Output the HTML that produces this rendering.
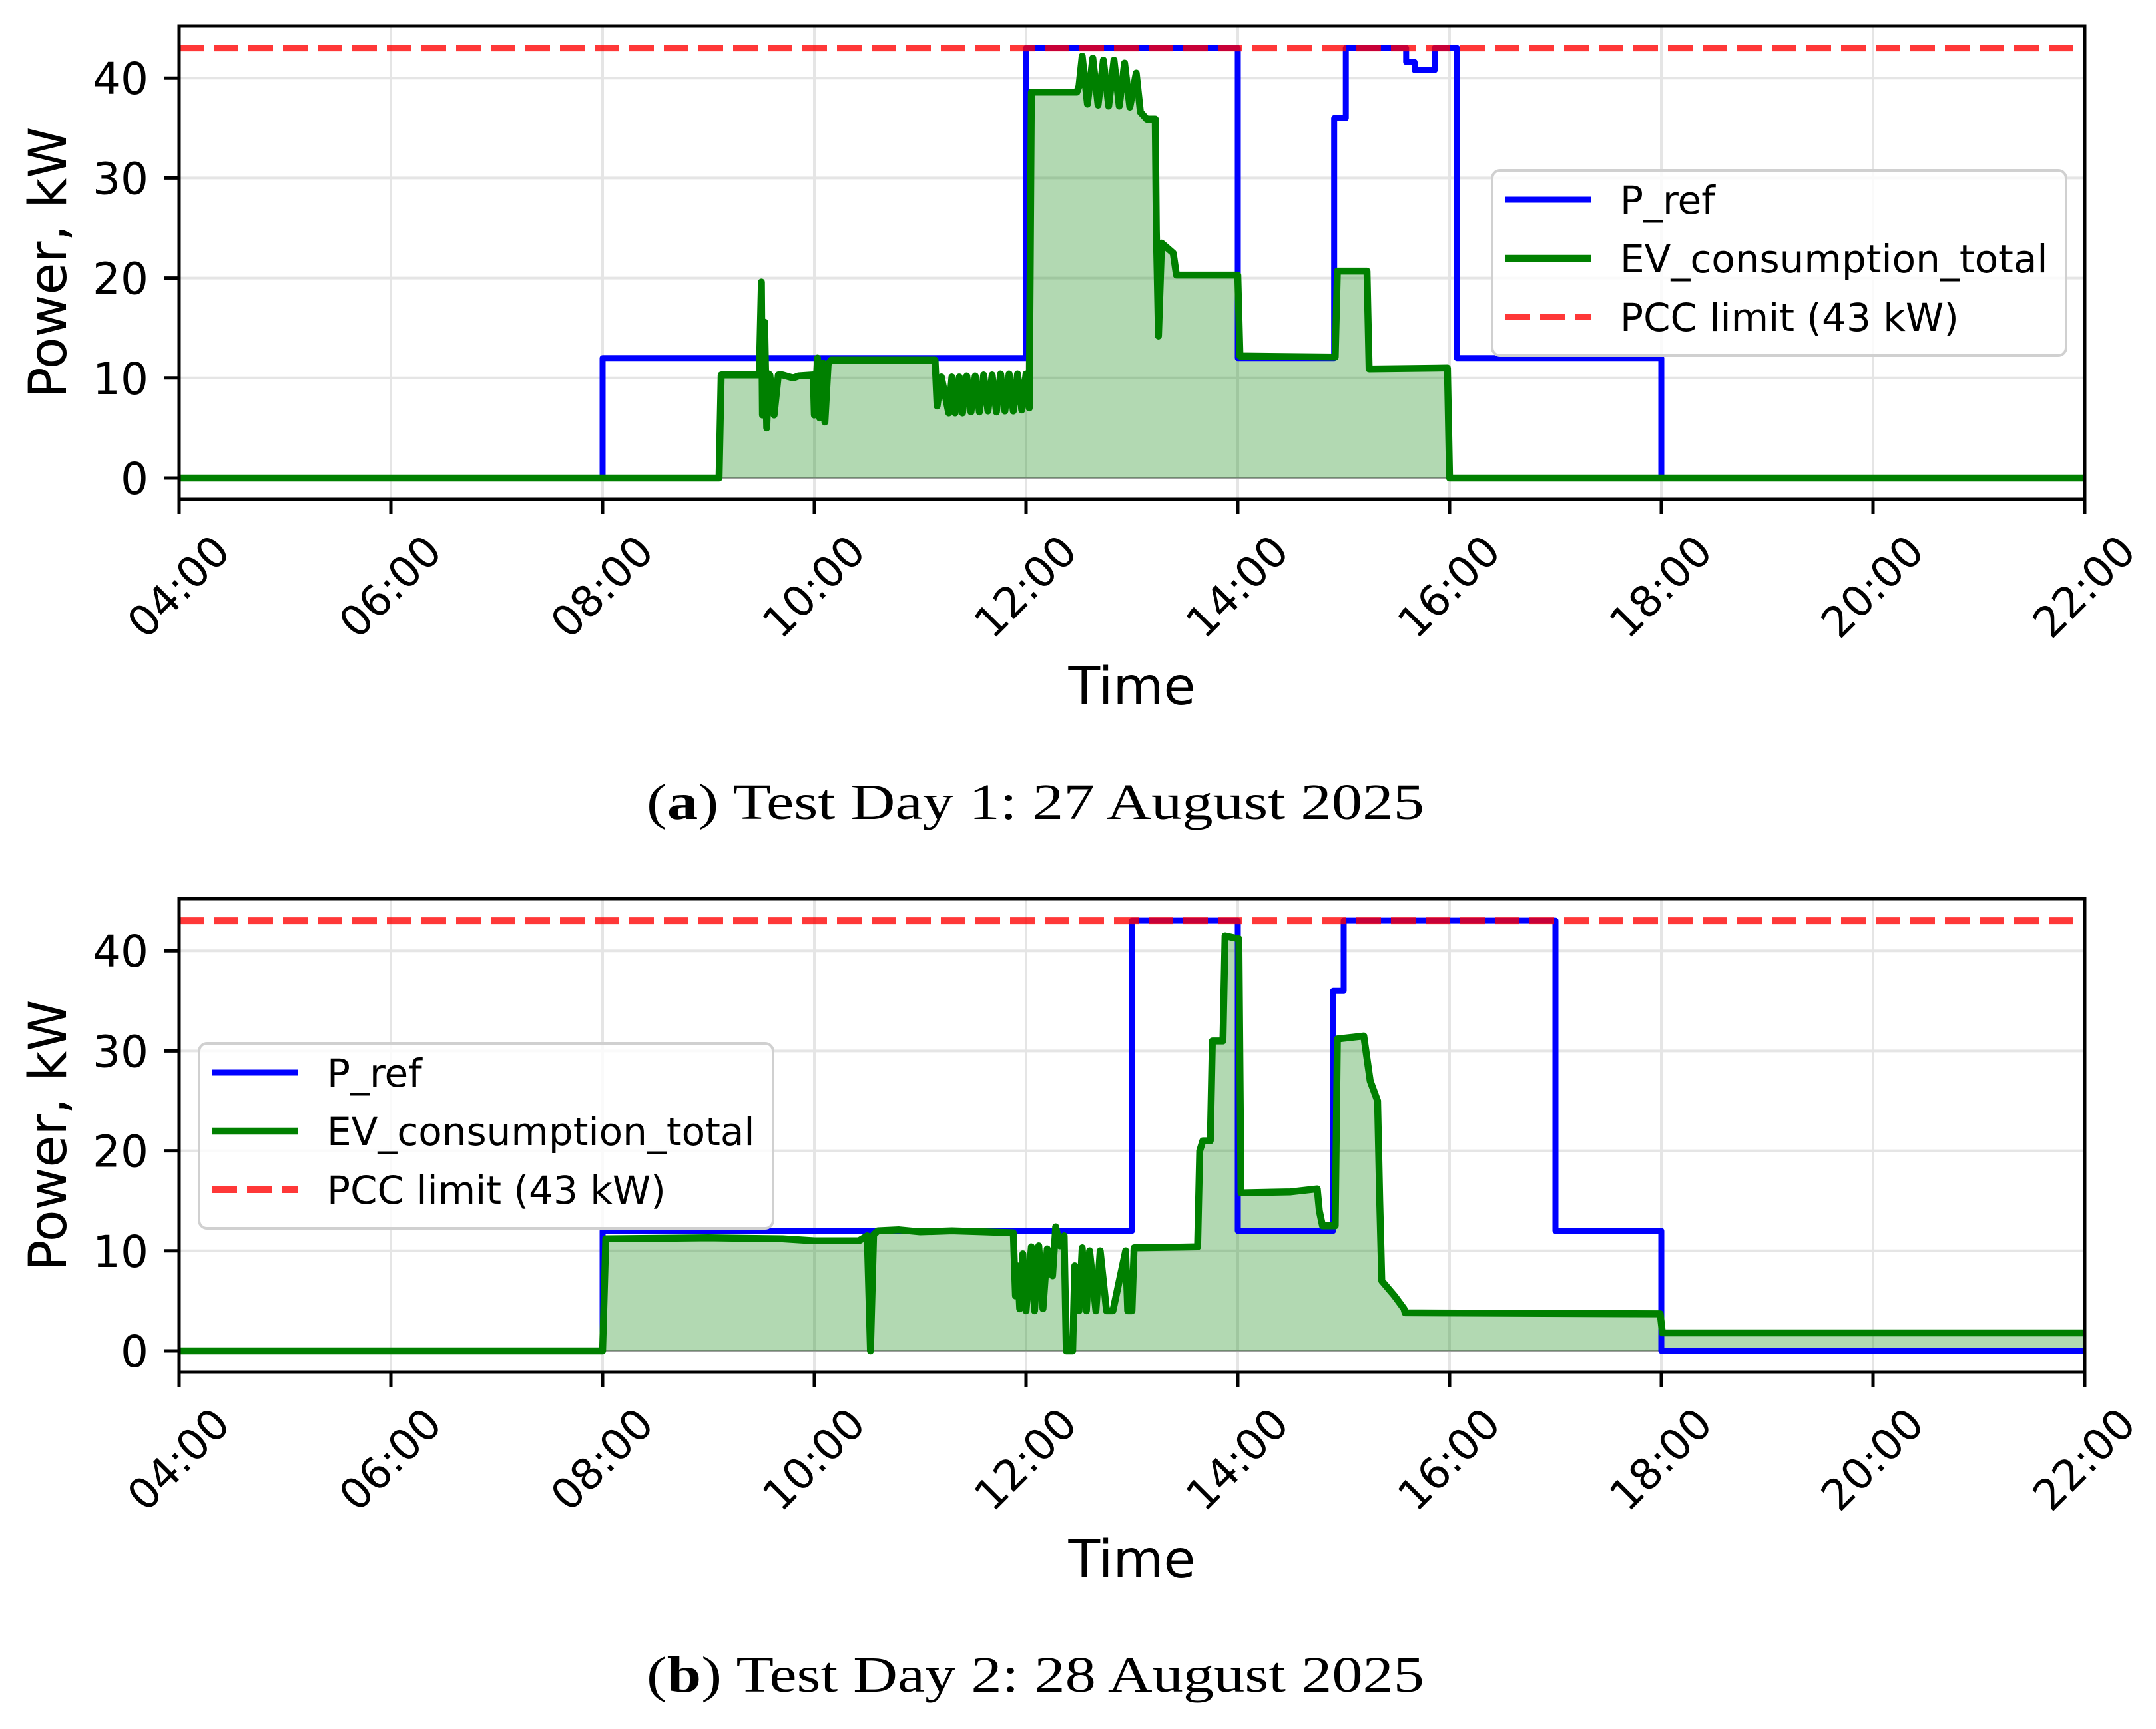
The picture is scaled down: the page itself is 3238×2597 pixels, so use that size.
<!DOCTYPE html>
<html><head><meta charset="utf-8">
<style>
html,body{margin:0;padding:0;background:#fff;}
svg{display:block;}
text{font-family:"DejaVu Sans","Liberation Sans",sans-serif;}
.cap{font-family:"Liberation Serif",serif;}
</style></head>
<body>
<svg id="fig" width="3238" height="2597" viewBox="0 0 3238 2597" xmlns="http://www.w3.org/2000/svg"></svg>
<script>
// ---- data (hours, kW) ----
const xTickLabels = ["04:00","06:00","08:00","10:00","12:00","14:00","16:00","18:00","20:00","22:00"];
const xTickHours = [4,6,8,10,12,14,16,18,20,22];
const yTickValues = [0,10,20,30,40];
const pccLimit = 43;

const day1RefT = [4,8,8,12,12,14,14,14.91,14.91,15.02,15.02,15.59,15.59,15.67,15.67,15.86,15.86,16.07,16.07,18,18,22];
const day1RefV = [0,0,12,12,43,43,12,12,36,36,43,43,41.6,41.6,40.8,40.8,43,43,12,12,0,0];
const day1EvT = [4,9.10,9.12,9.48,9.50,9.51,9.53,9.55,9.57,9.58,9.62,9.66,9.70,9.80,9.85,9.99,10.0,10.03,10.05,10.08,10.10,10.13,10.16,10.18,11.14,11.16,11.20,11.27,11.30,11.33,11.37,11.40,11.44,11.48,11.52,11.56,11.60,11.64,11.68,11.72,11.76,11.80,11.84,11.88,11.92,11.96,12.0,12.03,12.05,12.48,12.50,12.53,12.58,12.63,12.68,12.73,12.78,12.83,12.88,12.93,12.98,13.04,13.08,13.14,13.22,13.23,13.25,13.28,13.39,13.42,14.0,14.02,14.92,14.94,15.22,15.24,15.98,16.0,22];
const day1EvV = [0,0,10.3,10.3,19.6,6.3,15.6,5,10.4,10.3,6.3,10.3,10.3,10,10.2,10.3,6.3,12,6,11.5,5.6,11.4,11.8,11.8,11.8,7.2,10.1,6.5,10.1,6.5,10.1,6.5,10.2,6.6,10.2,6.6,10.3,6.7,10.3,6.6,10.4,6.7,10.4,6.7,10.4,6.8,10.4,7,38.6,38.6,39.2,42.2,37.4,42,37.3,41.8,37.2,41.8,37.2,41.5,37.1,40.5,36.6,35.9,35.9,24.8,14.2,23.5,22.5,20.3,20.3,12.2,12.1,20.7,20.7,10.9,11.0,0,0];

const day2RefT = [4,8,8,13,13,14,14,14.9,14.9,15.0,15.0,17,17,18,18,22];
const day2RefV = [0,0,12,12,43,43,12,12,36,36,43,43,12,12,0,0];
const day2EvT = [4,8.0,8.03,9.0,9.7,10.0,10.42,10.50,10.53,10.56,10.60,10.8,11.0,11.3,11.6,11.88,11.90,11.92,11.94,11.97,12.0,12.05,12.08,12.12,12.16,12.20,12.25,12.28,12.32,12.36,12.38,12.44,12.46,12.50,12.53,12.57,12.60,12.66,12.70,12.76,12.82,12.94,12.96,13.0,13.02,13.62,13.64,13.67,13.74,13.76,13.86,13.88,14.01,14.03,14.5,14.75,14.77,14.80,14.92,14.94,15.19,15.25,15.32,15.34,15.36,15.48,15.57,15.58,17.99,18.01,22];
const day2EvV = [0,0,11.2,11.3,11.2,11.0,11.0,11.5,0,11.6,12.0,12.1,11.9,12.0,11.9,11.8,5.5,8.5,4.2,9.7,4.0,10.4,4.0,10.5,4.2,10.2,7.5,12.4,10.5,11.5,0,0,8.5,4.0,10.3,4.0,10.0,4.0,10.0,4.0,4.0,10.0,4.0,4.0,10.3,10.4,20,21,21,31,31,41.5,41.2,15.8,15.9,16.2,14,12.5,12.5,31.2,31.5,27,25,15,7,5.5,4.2,3.8,3.7,1.8,1.8];

const NS = "http://www.w3.org/2000/svg";
const svg = document.getElementById('fig');
function mk(tag, attrs, parent){
  const e = document.createElementNS(NS, tag);
  for (const k in attrs) e.setAttribute(k, attrs[k]);
  (parent||svg).appendChild(e);
  return e;
}

const L = 269, R = 3131;
function xScale(h){ return L + (h-4)*(R-L)/18; }

function drawPanel(cfg){
  const y0 = cfg.y0, pxPerKw = 15.02;
  const yScale = v => y0 - v*pxPerKw;
  const top = cfg.top, bottom = cfg.bottom;
  const g = mk('g', {});
  
  
  const grid = mk('g', {}, g);
  
  
  xTickHours.forEach(h => {
    const l = mk('line', {x1:xScale(h), x2:xScale(h), y1:top, y2:bottom, stroke:'#e5e5e5', 'stroke-width':4}, grid);
    
    
  });
  yTickValues.forEach(v => {
    const l = mk('line', {x1:L, x2:R, y1:yScale(v), y2:yScale(v), stroke:'#e5e5e5', 'stroke-width':4}, grid);
    
    
  });
  const clipId = cfg.name + '-clip';
  const cp = mk('clipPath', {id:clipId}, g);
  mk('rect', {x:L, y:top, width:R-L, height:bottom-top}, cp);
  const plot = mk('g', {'clip-path':'url(#'+clipId+')'}, g);
  let d = 'M' + xScale(cfg.evT[0]) + ',' + yScale(0);
  cfg.evT.forEach((t,i) => { d += ' L' + xScale(t).toFixed(1) + ',' + yScale(cfg.evV[i]).toFixed(1); });
  d += ' L' + xScale(cfg.evT[cfg.evT.length-1]) + ',' + yScale(0) + ' Z';
  const fill = mk('path', {d:d, fill:'rgba(0,128,0,0.3)', stroke:'rgba(0,0,0,0.3)', 'stroke-width':3}, plot);
  
  
  const refPts = cfg.refT.map((t,i) => xScale(t).toFixed(1) + ',' + yScale(cfg.refV[i]).toFixed(1)).join(' ');
  const ref = mk('polyline', {points:refPts, fill:'none', stroke:'#0000ff', 'stroke-width':9, 'stroke-linejoin':'round'}, plot);
  
  
  const evPts = cfg.evT.map((t,i) => xScale(t).toFixed(1) + ',' + yScale(cfg.evV[i]).toFixed(1)).join(' ');
  const ev = mk('polyline', {points:evPts, fill:'none', stroke:'#008000', 'stroke-width':10.5, 'stroke-linejoin':'round'}, plot);
  
  
  const pcc = mk('line', {x1:L, x2:R, y1:yScale(pccLimit), y2:yScale(pccLimit), stroke:'rgba(255,0,0,0.78)', 'stroke-width':10, 'stroke-dasharray':'37 15'}, plot);
  
  
  const sp = mk('rect', {x:L, y:top, width:R-L, height:bottom-top, fill:'none', stroke:'#000', 'stroke-width':5}, g);
  
  
  yTickValues.forEach(v => {
    mk('line', {x1:L-23, x2:L, y1:yScale(v), y2:yScale(v), stroke:'#000', 'stroke-width':5}, g);
    const t = mk('text', {x:L-46, y:yScale(v)+24, 'text-anchor':'end', 'font-size':66}, g);
    
    
    t.textContent = String(v);
  });
  xTickHours.forEach((h,i) => {
    const x = xScale(h);
    mk('line', {x1:x, x2:x, y1:bottom, y2:bottom+22, stroke:'#000', 'stroke-width':5}, g);
    const cy = bottom + 132;
    const t = mk('text', {x:x, y:cy, 'text-anchor':'middle', 'dominant-baseline':'central', 'font-size':64, transform:'rotate(-45 '+x+' '+cy+')'}, g);
    
    
    t.textContent = xTickLabels[i];
  });
  const yl = mk('text', {x:0, y:0, 'text-anchor':'middle', 'font-size':78, transform:'translate(99 '+((top+bottom)/2)+') rotate(-90)'}, g);
  
  
  yl.textContent = 'Power, kW';
  const xl = mk('text', {x:1700, y:bottom+308, 'text-anchor':'middle', 'font-size':78}, g);
  
  
  xl.textContent = 'Time';
  const lg = mk('g', {}, g);
  
  
  const lx = cfg.legX, ly = cfg.legY;
  mk('rect', {x:lx, y:ly, width:862, height:278, rx:12, fill:'rgba(255,255,255,0.8)', stroke:'#d0d0d0', 'stroke-width':4}, lg);
  const items = [['P_ref','#0000ff',null,9],['EV_consumption_total','#008000',null,10.5],['PCC limit (43 kW)','rgba(255,0,0,0.78)','37 15',10]];
  items.forEach((it,i) => {
    const ry = ly + 44 + i*88;
    const ln = mk('line', {x1:lx+20, x2:lx+148, y1:ry, y2:ry, stroke:it[1], 'stroke-width':it[3]}, lg);
    if (it[2]) ln.setAttribute('stroke-dasharray', it[2]);
    
    
    const tx = mk('text', {x:lx+192, y:ry+21, 'font-size':58}, lg);
    
    
    tx.textContent = it[0];
  });
  const cap = mk('text', {x:1555, y:bottom+480, 'text-anchor':'middle', 'font-size':76, 'textLength':1168, 'lengthAdjust':'spacingAndGlyphs', class:'cap'}, g);
  
  
  const b1 = mk('tspan', {}, cap); b1.textContent = '(';
  const b2 = mk('tspan', {'font-weight':'bold'}, cap); b2.textContent = cfg.letter;
  const b3 = mk('tspan', {}, cap); b3.textContent = ') ' + cfg.caption;
}

drawPanel({name:'panel-day1', y0:718, top:39, bottom:750, refT:day1RefT, refV:day1RefV, evT:day1EvT, evV:day1EvV, legX:2241, legY:256, letter:'a', caption:'Test Day 1: 27 August 2025'});
drawPanel({name:'panel-day2', y0:2029, top:1350, bottom:2061, refT:day2RefT, refV:day2RefV, evT:day2EvT, evV:day2EvV, legX:299, legY:1567, letter:'b', caption:'Test Day 2: 28 August 2025'});
</script>
</body></html>
